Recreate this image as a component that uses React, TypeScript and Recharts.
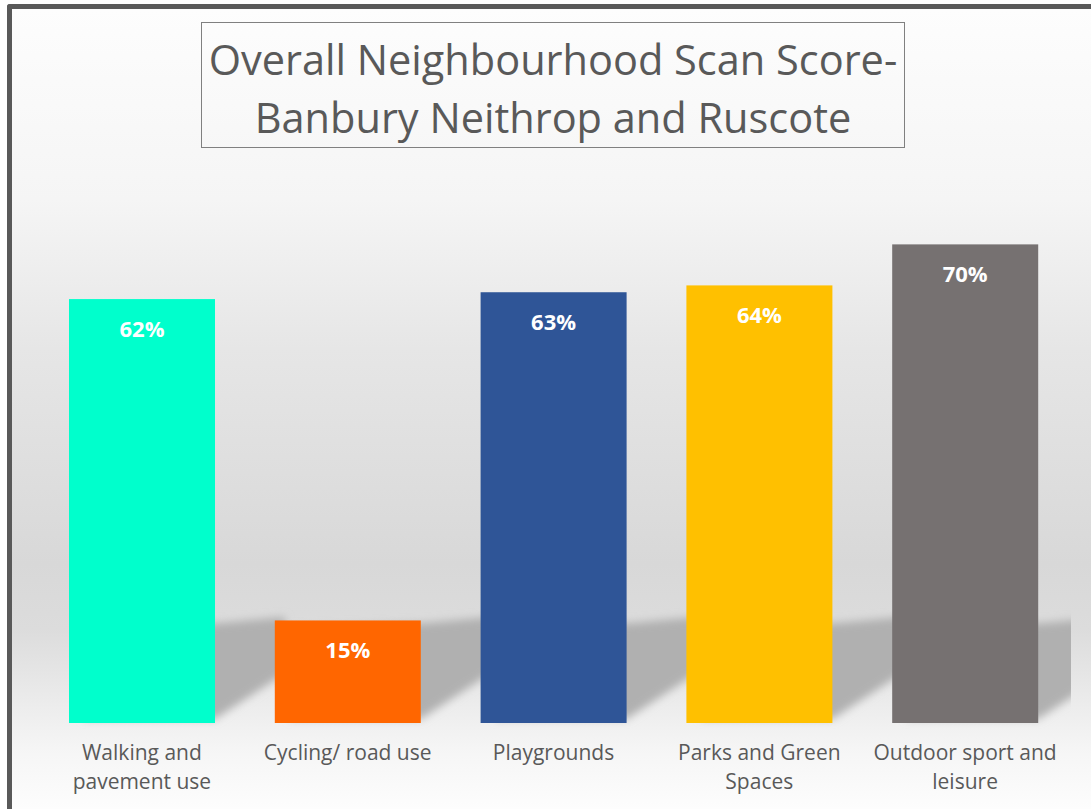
import { BarChart, Bar, XAxis, YAxis, Cell, LabelList } from 'recharts'

const categories = ['Walking and pavement use', 'Cycling/ road use', 'Playgrounds', 'Parks and Green Spaces', 'Outdoor sport and leisure']
// how each category label wraps under the bar
const tickLines = [
	['Walking and', 'pavement use'],
	['Cycling/ road use'],
	['Playgrounds'],
	['Parks and Green', 'Spaces'],
	['Outdoor sport and', 'leisure'],
]
const scores = [62, 15, 63, 64, 70]
const barColors = ['#00FFCC', '#FF6600', '#2F5597', '#FFC000', '#767171']

const data = categories.map((name, i) => ({ name, score: scores[i] }))

const FONT = '"Open Sans", "Noto Sans", sans-serif'

// bar with a soft floor shadow thrown back to the right
function ShadowBar(props: any) {
	const { x, y, width, height, index } = props
	const fill = barColors[index] || props.fill
	const base = y + height
	const pts = [
		[x + 15, base - 95],
		[x + width + 5, base - 100],
		[x + width + 70, base - 106],
		[x + width + 70, base - 50],
		[x + width, base - 4],
		[x + 15, base - 4],
	]
		.map((p) => p.join(','))
		.join(' ')
	return (
		<g>
			<polygon points={pts} fill="#b0b0b0" filter="url(#shadowBlur)" clipPath="url(#plotClip)" />
			<rect x={x} y={y} width={width} height={height} fill={fill} />
		</g>
	)
}

function renderLabel(props: any) {
	const { x, y, width, value } = props
	return (
		<text
			x={x + width / 2}
			y={y + 29}
			textAnchor="middle"
			dominantBaseline="central"
			fill="#ffffff"
			fontWeight="bold"
			fontSize={22}
			fontFamily={FONT}
		>
			{value}%
		</text>
	)
}

function CategoryTick(props: any) {
	const { x, y, index } = props
	const lines = tickLines[index] || [props.payload.value]
	return (
		<text x={x} y={y} textAnchor="middle" fill="#595959" fontSize={21} fontFamily={FONT}>
			{lines.map((l, i) => (
				<tspan key={l} x={x} dy={i === 0 ? '0.71em' : 29}>
					{l}
				</tspan>
			))}
		</text>
	)
}

export default function App() {
	return (
		<div style={{ position: 'absolute', left: 0, top: 0, width: 1091, height: 809, overflow: 'hidden', background: '#ffffff' }}>
			<div
				style={{
					position: 'absolute',
					left: 7,
					top: 4,
					width: 1120,
					height: 840,
					borderLeft: '5px solid #595959',
					borderTop: '5px solid #595959',
					borderTopLeftRadius: 3,
					background:
						'linear-gradient(to bottom, #fdfdfd 0px, #f5f5f5 190px, #e6e6e6 340px, #d8d8d8 555px, #dcdcdc 620px, #ededed 700px, #f2f2f2 725px, #f6f6f6 745px, #fdfdfd 800px)',
				}}
			/>
			<div
				style={{
					position: 'absolute',
					left: 201,
					top: 22,
					width: 704,
					height: 126,
					border: '1.5px solid #808080',
					color: '#595959',
					fontFamily: FONT,
					fontSize: 41.5,
					lineHeight: '58px',
					textAlign: 'center',
					paddingTop: 7,
					boxSizing: 'border-box',
					whiteSpace: 'nowrap',
				}}
			>
				Overall Neighbourhood Scan Score-
				<br />
				Banbury Neithrop and Ruscote
			</div>
			<div style={{ position: 'absolute', left: 0, top: 0 }}>
				<BarChart width={1091} height={809} data={data} margin={{ top: 176, right: 23, bottom: 0, left: 39 }} barSize={146}>
					<defs>
						<filter id="shadowBlur" x="-20%" y="-20%" width="140%" height="140%">
							<feGaussianBlur stdDeviation="4" />
						</filter>
						<clipPath id="plotClip">
							<rect x={0} y={0} width={1071} height={809} />
						</clipPath>
					</defs>
					<XAxis
						dataKey="name"
						axisLine={false}
						tickLine={false}
						height={86}
						tickMargin={16}
						interval={0}
						tick={<CategoryTick />}
					/>
					<YAxis hide domain={[0, 80]} />
					<Bar dataKey="score" isAnimationActive={false} shape={<ShadowBar />}>
						{data.map((d, i) => (
							<Cell key={d.name} fill={barColors[i]} />
						))}
						<LabelList dataKey="score" content={renderLabel} />
					</Bar>
				</BarChart>
			</div>
		</div>
	)
}
